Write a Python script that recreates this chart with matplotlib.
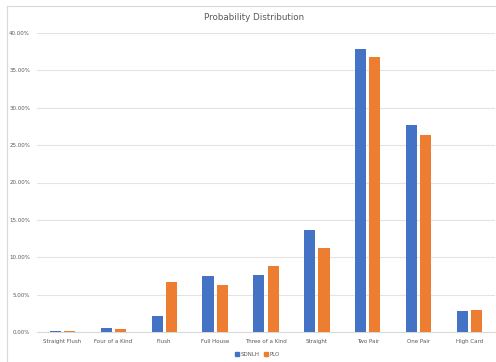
import numpy as np
import matplotlib
matplotlib.use("Agg")
import matplotlib.pyplot as plt
from matplotlib.ticker import PercentFormatter
from matplotlib.lines import Line2D

hands = ["Straight Flush", "Four of a Kind", "Flush", "Full House", "Three of a Kind",
         "Straight", "Two Pair", "One Pair", "High Card"]
sdnlh = [0.14, 0.53, 2.14, 7.53, 7.62, 13.6, 37.83, 27.7, 2.76]
plo = [0.11, 0.40, 6.68, 6.32, 8.82, 11.27, 36.8, 26.4, 2.98]

blue = "#4472C4"
orange = "#ED7D31"
grey_text = "#595959"

fig = plt.figure(figsize=(4.96, 3.62), dpi=100)
ax = fig.add_axes([37 / 496, 30 / 362, 458 / 496, 299 / 362])

x = np.arange(len(hands))
w = 0.22
ax.bar(x - 0.14, sdnlh, w, color=blue, label="SDNLH", zorder=3)
ax.bar(x + 0.14, plo, w, color=orange, label="PLO", zorder=3)

ax.set_xlim(-0.5, len(hands) - 0.5)
ax.set_ylim(0, 40)
ax.set_yticks(np.arange(0, 40.1, 5))
ax.yaxis.set_major_formatter(PercentFormatter(decimals=2))
ax.set_xticks(x)
ax.set_xticklabels(hands)
ax.tick_params(axis="both", length=0, labelsize=4.0, colors=grey_text, pad=5)
ax.grid(axis="y", color="#e3e3e3", linewidth=0.8, zorder=0)
for s in ["top", "right", "left"]:
    ax.spines[s].set_visible(False)
ax.spines["bottom"].set_color("#d9d9d9")
ax.spines["bottom"].set_linewidth(0.8)

fig.text(254 / 496, 1 - 18 / 362, "Probability Distribution", ha="center", va="center",
         fontsize=6.3, color=grey_text)

handles = [Line2D([], [], marker="s", linestyle="", color=blue, markersize=3.2),
           Line2D([], [], marker="s", linestyle="", color=orange, markersize=3.2)]
fig.legend(handles, ["SDNLH", "PLO"], loc="center", bbox_to_anchor=(257 / 496, 1 - 354 / 362),
           ncol=2, frameon=False, fontsize=4.0, labelcolor=grey_text, handletextpad=0.1,
           columnspacing=0.8, handlelength=1.0)

# chart frame (top and left edges visible in the crop)
fig.add_artist(Line2D([7 / 496, 495 / 496], [1 - 6 / 362, 1 - 6 / 362],
                      transform=fig.transFigure, color="#d9d9d9", linewidth=0.8))
fig.add_artist(Line2D([7 / 496, 7 / 496], [0, 1 - 6 / 362],
                      transform=fig.transFigure, color="#d9d9d9", linewidth=0.8))

fig.savefig("out.png", dpi=100)
